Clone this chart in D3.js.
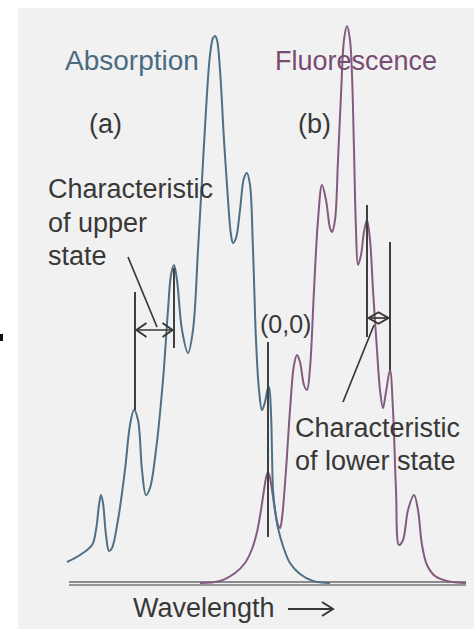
<!DOCTYPE html>
<html>
<head>
<meta charset="utf-8">
<script src="https://cdn.jsdelivr.net/npm/d3@7"></script>
<style>
  html, body { margin: 0; padding: 0; background: #ffffff; }
  svg { display: block; }
  text { font-family: "Liberation Sans", Arial, Helvetica, sans-serif; }
</style>
</head>
<body>
<svg id="chart" width="474" height="629"></svg>
<script>
// Absorption spectrum: vibrational progression running to shorter wavelength from the (0,0) band
const absWavelength = [1, 14, 26, 30, 33, 35, 37, 40, 43, 46, 52, 59, 64, 68, 72, 76, 80, 84, 90, 97,
  102, 105, 108, 111, 116, 122, 127, 132, 136, 140, 144, 147, 149, 151, 154, 158, 162, 165, 167, 170,
  174, 178, 181, 184, 187, 190, 193, 196, 199, 202, 203, 205, 206, 207, 209, 212, 217, 224, 234, 247, 264];
const absIntensity = [21, 28, 38, 53, 78, 88, 80, 48, 32, 35, 63, 113, 158, 173, 163, 113, 88, 95, 133, 203,
  273, 308, 318, 303, 253, 230, 253, 333, 403, 473, 528, 545, 547, 543, 513, 443, 383, 348, 340, 345,
  373, 405, 410, 398, 333, 243, 193, 173, 181, 195, 196, 170, 130, 93, 73, 55, 37, 20, 9, 2, 0];

// Fluorescence spectrum: mirror-image progression running to longer wavelength
const fluWavelength = [134, 154, 169, 179, 186, 191, 195, 198, 200, 202, 204, 206, 209, 212, 214, 216, 220, 224, 228, 231,
  234, 238, 241, 244, 248, 252, 256, 260, 264, 266, 269, 272, 275, 278, 281, 284, 286, 288, 290, 292,
  295, 298, 301, 304, 307, 311, 314, 317, 320, 324, 327, 330, 333, 337, 342, 348, 352, 356, 361, 369, 381, 400];
const fluIntensity = [0, 2, 10, 20, 34, 51, 73, 93, 105, 111, 105, 93, 73, 58, 55, 65, 113, 173, 218, 228,
  221, 198, 193, 215, 293, 363, 398, 383, 355, 351, 363, 423, 488, 543, 557, 543, 508, 433, 353, 318,
  328, 351, 363, 343, 293, 233, 193, 175, 191, 213, 173, 93, 38, 43, 73, 88, 73, 38, 18, 7, 2, 0];

// Annotation anchors, in wavelength / intensity units
const upperMarkerWl = [69, 108];          // adjacent absorption bands
const upperMarkerTop = [291, 315];
const upperMarkerBottom = [173, 235];
const upperArrowLevel = 253;
const lowerMarkerWl = [301, 324];         // adjacent fluorescence bands
const lowerMarkerTop = [378, 341];
const lowerMarkerBottom = [246, 213];
const lowerArrowLevel = 265;
const originWl = 202;                     // (0,0) transition
const originTop = 241;
const originBottom = 46;
const axisWl = [3, 400];

const svg = d3.select("#chart");

// page background
svg.append("rect").attr("x", 0).attr("y", 0).attr("width", 474).attr("height", 629).attr("fill", "#ffffff");
svg.append("rect").attr("x", 18).attr("y", 8).attr("width", 456).attr("height", 621).attr("fill", "#f1f1f1");
svg.append("rect").attr("x", 0).attr("y", 334).attr("width", 3).attr("height", 7).attr("fill", "#111");

const x = d3.scaleLinear().domain([0, 400]).range([66, 466]);
const y = d3.scaleLinear().domain([0, 550]).range([583, 33]);

const absColor = "#4f6f84";
const fluColor = "#845a7e";
const inkColor = "#383838";

// baselines
svg.append("line").attr("x1", x(axisWl[0])).attr("x2", x(axisWl[1]))
  .attr("y1", y(1)).attr("y2", y(1)).attr("stroke", "#6a6a6a").attr("stroke-width", 1.7);
svg.append("line").attr("x1", x(axisWl[0])).attr("x2", x(axisWl[1]))
  .attr("y1", y(-2)).attr("y2", y(-2)).attr("stroke", "#777777").attr("stroke-width", 1.7);

const line = d3.line()
  .x(d => x(d[0]))
  .y(d => y(d[1]))
  .curve(d3.curveCatmullRom.alpha(0.5));

svg.append("path")
  .datum(d3.zip(fluWavelength, fluIntensity))
  .attr("d", line)
  .attr("fill", "none")
  .attr("stroke", fluColor)
  .attr("stroke-width", 2)
  .attr("stroke-linejoin", "round");

svg.append("path")
  .datum(d3.zip(absWavelength, absIntensity))
  .attr("d", line)
  .attr("fill", "none")
  .attr("stroke", absColor)
  .attr("stroke-width", 2)
  .attr("stroke-linejoin", "round");

// marker lines
function vline(wl, top, bottom) {
  svg.append("line")
    .attr("x1", x(wl)).attr("x2", x(wl))
    .attr("y1", y(top)).attr("y2", y(bottom))
    .attr("stroke", "#404040").attr("stroke-width", 2);
}
upperMarkerWl.forEach((wl, i) => vline(wl, upperMarkerTop[i], upperMarkerBottom[i]));
lowerMarkerWl.forEach((wl, i) => vline(wl, lowerMarkerTop[i], lowerMarkerBottom[i]));
vline(originWl, originTop, originBottom);

// double-headed arrows between adjacent bands
function doubleArrow(wl0, wl1, level, head, half) {
  const x0 = x(wl0) + 1.5, x1 = x(wl1) - 1.5, yy = y(level);
  svg.append("line").attr("x1", x0).attr("x2", x1).attr("y1", yy).attr("y2", yy)
    .attr("stroke", inkColor).attr("stroke-width", 1.7);
  const p = d3.path();
  p.moveTo(x0 + head, yy - half); p.lineTo(x0, yy); p.lineTo(x0 + head, yy + half);
  p.moveTo(x1 - head, yy - half); p.lineTo(x1, yy); p.lineTo(x1 - head, yy + half);
  svg.append("path").attr("d", p.toString()).attr("fill", "none")
    .attr("stroke", inkColor).attr("stroke-width", 2).attr("stroke-linejoin", "miter");
}
doubleArrow(upperMarkerWl[0], upperMarkerWl[1], upperArrowLevel, 10, 7);
doubleArrow(lowerMarkerWl[0], lowerMarkerWl[1], lowerArrowLevel, 10.5, 6);

// leader lines to the captions
svg.append("line").attr("x1", 128).attr("y1", 257).attr("x2", 157).attr("y2", 327)
  .attr("stroke", inkColor).attr("stroke-width", 1.7);
svg.append("line").attr("x1", 374).attr("y1", 325).attr("x2", 343).attr("y2", 402)
  .attr("stroke", inkColor).attr("stroke-width", 1.7);

// captions
function label(txt, px, py, color, size) {
  svg.append("text").attr("x", px).attr("y", py).attr("fill", color)
    .attr("font-size", size).text(txt);
}
label("Absorption", 65, 70, "#4a6c80", 28);
label("Fluorescence", 275, 70, "#784c72", 27);
label("(a)", 89, 133, inkColor, 27);
label("(b)", 298, 133, inkColor, 27);
label("Characteristic", 48, 198, inkColor, 27);
label("of upper", 48, 232, inkColor, 27);
label("state", 48, 265, inkColor, 27);
label("(0,0)", 260, 333, inkColor, 25);
label("Characteristic", 295, 437, inkColor, 27);
label("of lower state", 295, 470, inkColor, 27);
label("Wavelength", 133, 617, inkColor, 27);

// wavelength direction arrow
const ax = d3.path();
ax.moveTo(288, 609); ax.lineTo(332, 609);
ax.moveTo(322, 602); ax.lineTo(333, 609); ax.lineTo(322, 616);
svg.append("path").attr("d", ax.toString()).attr("fill", "none")
  .attr("stroke", inkColor).attr("stroke-width", 2);
</script>
</body>
</html>
